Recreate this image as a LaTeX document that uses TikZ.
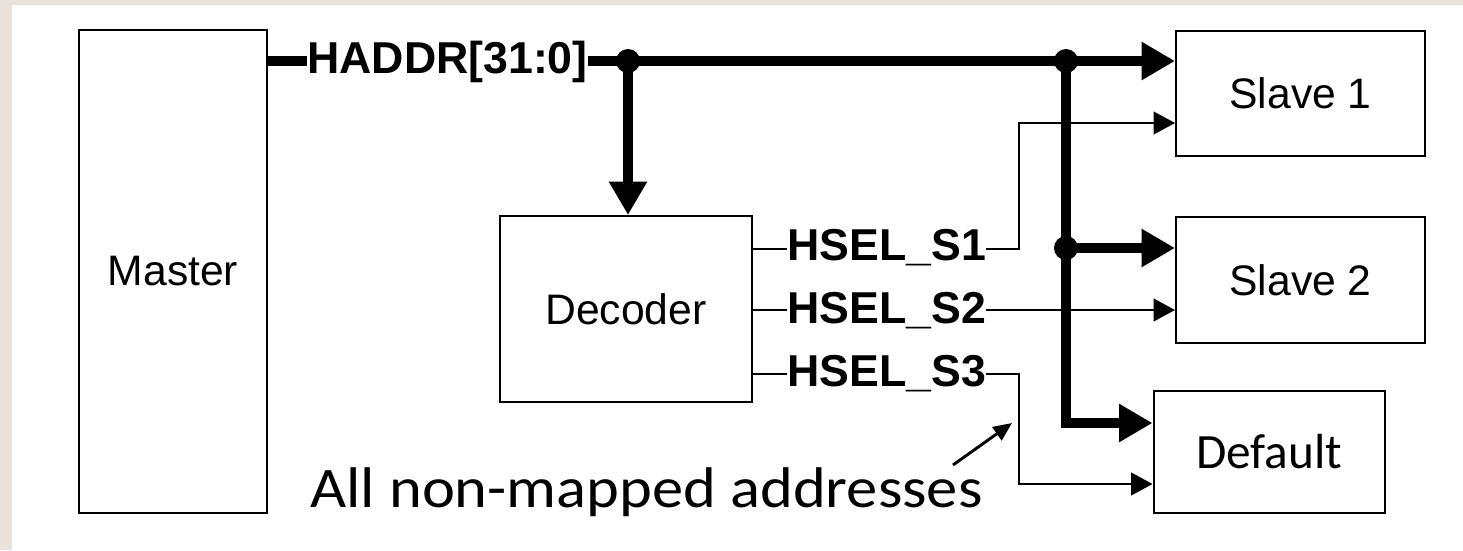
\documentclass[tikz,border=0pt]{standalone}
\usepackage{fontspec}
\setmainfont{Liberation Sans}
\newfontfamily\calib{Carlito}
\usetikzlibrary{arrows.meta}
\definecolor{bgc}{RGB}{233,225,220}
\begin{document}
\begin{tikzpicture}[x=0.75pt,y=-0.75pt,
  box/.style={draw, line width=1.5pt, inner sep=0pt, font=\fontsize{32}{38}\selectfont},
  bus/.style={line width=7.5pt, line join=miter},
  sig/.style={line width=1.5pt, line join=miter},
  bigtip/.style={-{Triangle[length=25pt,width=27pt]}},
  smalltip/.style={-{Triangle[length=16pt,width=17pt]}},
  lab/.style={font=\fontsize{33.5}{40}\selectfont\bfseries, inner sep=0pt},
  dot/.style={radius=9pt}
]
\useasboundingbox (0,0) rectangle (1463,550);
\fill[bgc] (0,0) rectangle (1463,550);
\fill[white] (12,5) rectangle (1463,550);

% boxes
\node[box, minimum width=188*0.75pt, minimum height=483*0.75pt] (master) at (173,271.5) {Master};
\node[box, minimum width=252*0.75pt, minimum height=186*0.75pt] (decoder) at (626,309) {Decoder};
\node[box, minimum width=249*0.75pt, minimum height=125*0.75pt] (slave1) at (1300.5,93.5) {Slave 1};
\node[box, minimum width=249*0.75pt, minimum height=126*0.75pt] (slave2) at (1300.5,280) {Slave 2};
\node[box, minimum width=231*0.75pt, minimum height=122*0.75pt, font=\calib\fontsize{37}{44}\selectfont] (default) at (1269,452) {Default};

% labels
\node[lab, anchor=base west] (haddr) at (307,73) {HADDR[31:0]};
\node[lab, anchor=base west] (hs1) at (787,260) {HSEL\_S1};
\node[lab, anchor=base west] (hs2) at (787,323) {HSEL\_S2};
\node[lab, anchor=base west] (hs3) at (787,386) {HSEL\_S3};
\node[font=\calib\fontsize{43}{50}\selectfont, anchor=base west, inner sep=0pt, xscale=1.09] (ann) at (310,507) {All non-mapped addresses};

% coordinates
\coordinate (d1) at (628,61);
\coordinate (d2) at (1066,61);
\coordinate (d3) at (1066,248);
\coordinate (cb) at (1066,423);
\coordinate (s1) at (1019,249);
\coordinate (s1u) at (1019,123);
\coordinate (s2) at (1019,310);
\coordinate (s3) at (1019,374);
\coordinate (s3d) at (1019,484);
\coordinate (a0) at (953,465);
\coordinate (a1) at (1012,423);

% address bus
\draw[bus] (master.east |- d1) -- (haddr.west |- d1);
\draw[bus] (haddr.east |- d1) -- (d1) -- (d2);
\draw[bus, bigtip] (d2) -- (slave1.west |- d2);
\draw[bus, bigtip] (d1) -- (decoder.north -| d1);
\draw[bus, bigtip] (d2) -- (cb) -- (default.west |- cb);
\draw[bus, bigtip] (d3) -- (slave2.west |- d3);
\fill (d1) circle[dot];
\fill (d2) circle[dot];
\fill (d3) circle[dot];

% select signals
\draw[sig] (decoder.east |- s1) -- (hs1.west |- s1);
\draw[sig] (decoder.east |- s2) -- (hs2.west |- s2);
\draw[sig] (decoder.east |- s3) -- (hs3.west |- s3);
\draw[sig, smalltip] (hs1.east |- s1) -- (s1) -- (s1u) -- (slave1.west |- s1u);
\draw[sig, smalltip] (hs2.east |- s2) -- (slave2.west |- s2);
\draw[sig, smalltip] (hs3.east |- s3) -- (s3) -- (s3d) -- (default.west |- s3d);

% annotation arrow
\draw[line width=2.2pt, -{Triangle[length=14pt,width=12pt]}] (a0) -- (a1);
\end{tikzpicture}
\end{document}
